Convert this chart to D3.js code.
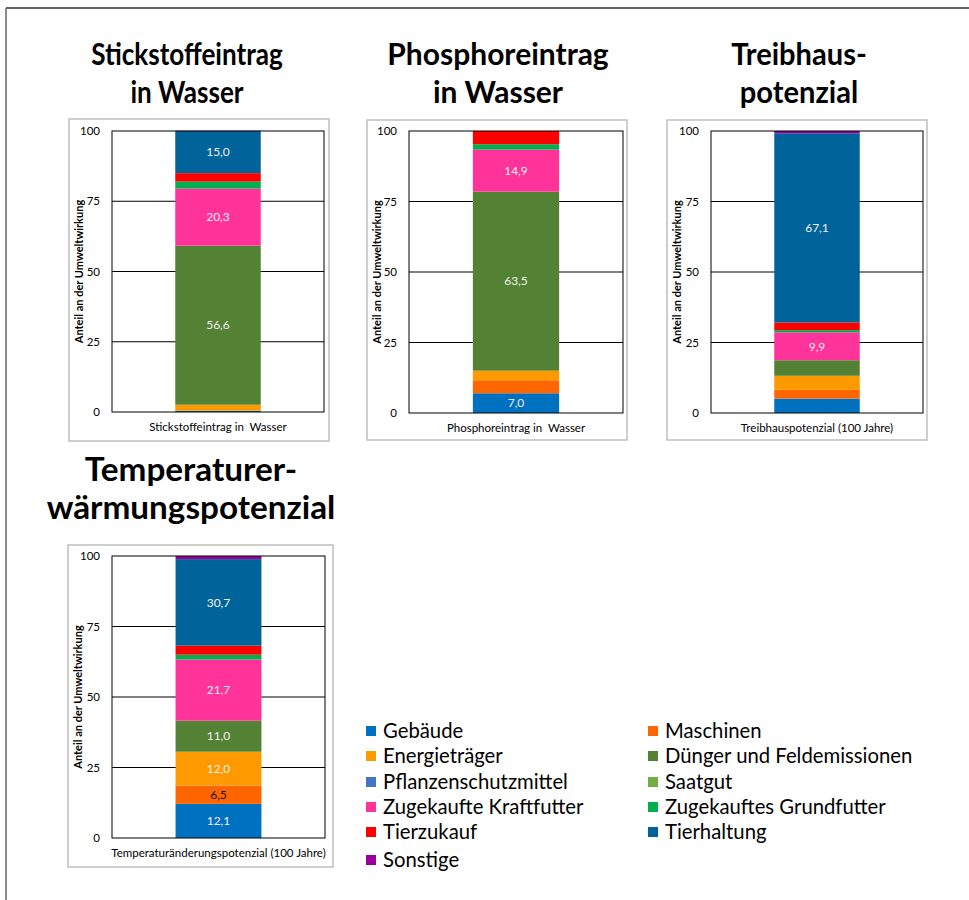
<!DOCTYPE html>
<html><head><meta charset="utf-8">
<script src="https://cdn.jsdelivr.net/npm/d3@7"></script>
<style>
html,body{margin:0;padding:0;background:#fff;}
svg{display:block;}
</style></head>
<body>
<script>
// ---- DATA ----
const categories = ["Gebäude","Maschinen","Energieträger","Dünger und Feldemissionen","Pflanzenschutzmittel","Saatgut","Zugekaufte Kraftfutter","Zugekauftes Grundfutter","Tierzukauf","Tierhaltung","Sonstige"];
const colors = ["#0070C0","#FF6600","#FF9900","#548235","#4472C4","#70AD47","#FF3399","#00B050","#FF0000","#00649A","#990099"];
const legendOrder = ["Gebäude","Maschinen","Energieträger","Dünger und Feldemissionen","Pflanzenschutzmittel","Saatgut","Zugekaufte Kraftfutter","Zugekauftes Grundfutter","Tierzukauf","Tierhaltung","Sonstige"];

const chartTitles = [["Stickstoffeintrag","in Wasser"],["Phosphoreintrag","in Wasser"],["Treibhaus-","potenzial"],["Temperaturer-","wärmungspotenzial"]];
const xLabels = ["Stickstoffeintrag in  Wasser","Phosphoreintrag in  Wasser","Treibhauspotenzial (100 Jahre)","Temperaturänderungspotenzial (100 Jahre)"];
const yAxisTitle = "Anteil an der Umweltwirkung";
const yTicks = [0,25,50,75,100];

const stickstoffValues  = [0.4, 0.1, 2.1, 56.6, 0.0, 0.0, 20.3, 2.5, 3.0, 15.0, 0.1];
const phosphorValues    = [7.0, 4.6, 3.4, 63.5, 0.0, 0.0, 14.9, 1.9, 4.7, 0.0, 0.0];
const treibhausValues   = [5.1, 3.1, 5.0, 5.5, 0.0, 0.0, 9.9, 0.8, 2.7, 67.1, 0.8];
const temperaturValues  = [12.1, 6.5, 12.0, 11.0, 0.0, 0.0, 21.7, 1.7, 3.2, 30.7, 1.1];

// which segments carry a data label
const stickstoffLabels = ["Dünger und Feldemissionen","Zugekaufte Kraftfutter","Tierhaltung"];
const phosphorLabels   = ["Gebäude","Dünger und Feldemissionen","Zugekaufte Kraftfutter"];
const treibhausLabels  = ["Zugekaufte Kraftfutter","Tierhaltung"];
const temperaturLabels = ["Gebäude","Maschinen","Energieträger","Dünger und Feldemissionen","Zugekaufte Kraftfutter","Tierhaltung"];

const seriesValues = [stickstoffValues, phosphorValues, treibhausValues, temperaturValues];
const seriesLabels = [stickstoffLabels, phosphorLabels, treibhausLabels, temperaturLabels];

// ---- LAYOUT ----
const W = 969, H = 900;
const panels = [
  {bx:69, by:119, bw:260, bh:322, px0:112, px1:324, py0:131, py1:412, tx:187, ty:65, tfs:30, tsx:0.87},
  {bx:367, by:120, bw:260, bh:320, px0:409, px1:623, py0:131, py1:413, tx:498, ty:65, tfs:30, tsx:1.0},
  {bx:667, by:120, bw:260, bh:320, px0:711, px1:923, py0:131, py1:413, tx:799, ty:65, tfs:30, tsx:0.97},
  {bx:68, by:545, bw:265, bh:322, px0:112, px1:325, py0:556, py1:838, tx:191, ty:481, tfs:32, tsx:1.04}
];

const svg = d3.select("body").append("svg").attr("width", W).attr("height", H);
const fmt = v => d3.format(".1f")(v).replace(".", ",");
const color = d3.scaleOrdinal(categories, colors);
const FONT = "Lato, 'Open Sans', sans-serif";

// outer frame (top and left lines)
svg.append("line").attr("x1",6).attr("x2",W).attr("y1",8).attr("y2",8).attr("stroke","#333").attr("stroke-width",1.5);
svg.append("line").attr("x1",6).attr("x2",6).attr("y1",8).attr("y2",H).attr("stroke","#666").attr("stroke-width",1.5);

panels.forEach((p, i) => {
  const g = svg.append("g");
  // title
  chartTitles[i].forEach((t, k) => {
    g.append("g").attr("transform",`translate(${p.tx},${p.ty + k*38}) scale(${p.tsx},1)`)
      .append("text").attr("x",0).attr("y",0)
      .attr("text-anchor","middle").attr("font-family",FONT).attr("font-weight","bold")
      .attr("font-size",p.tfs).attr("fill","#000").text(t);
  });
  // panel border
  g.append("rect").attr("x",p.bx).attr("y",p.by).attr("width",p.bw).attr("height",p.bh)
    .attr("fill","#fff").attr("stroke","#bfbfbf").attr("stroke-width",1.5);

  const y = d3.scaleLinear().domain([0,100]).range([p.py1, p.py0]);
  const x = d3.scaleBand().domain([xLabels[i]]).range([p.px0, p.px1]).paddingInner(0).paddingOuter(0.74);

  // gridlines
  g.append("g").selectAll("line").data(yTicks.filter(t => t > 0 && t < 100)).join("line")
    .attr("x1",p.px0).attr("x2",p.px1).attr("y1",d=>y(d)).attr("y2",d=>y(d))
    .attr("stroke","#000").attr("stroke-width",1);

  // stacked bar
  const vals = seriesValues[i];
  let cum = 0;
  const segs = categories.map((c, j) => { const s = {cat:c, v:vals[j], y0:cum, y1:cum+vals[j]}; cum += vals[j]; return s; })
    .filter(s => s.v > 0);
  g.append("g").selectAll("rect").data(segs).join("rect")
    .attr("x", x(xLabels[i])).attr("width", x.bandwidth())
    .attr("y", d => y(d.y1)).attr("height", d => y(d.y0) - y(d.y1))
    .attr("fill", d => color(d.cat));

  // plot frame
  g.append("rect").attr("x",p.px0).attr("y",p.py0).attr("width",p.px1-p.px0).attr("height",p.py1-p.py0)
    .attr("fill","none").attr("stroke","#000").attr("stroke-width",1);

  // data labels
  g.append("g").selectAll("text").data(segs.filter(s => seriesLabels[i].includes(s.cat))).join("text")
    .attr("x", x(xLabels[i]) + x.bandwidth()/2)
    .attr("y", d => (y(d.y0)+y(d.y1))/2)
    .attr("dy","0.35em").attr("text-anchor","middle")
    .attr("font-family",FONT).attr("font-size",12)
    .attr("fill", d => d.cat === "Maschinen" ? "#111" : "#f0f0f0")
    .text(d => fmt(d.v));

  // y axis tick labels
  const yAxis = d3.axisLeft(y).tickValues(yTicks).tickSize(0).tickPadding(12);
  const ya = g.append("g").attr("transform",`translate(${p.px0},0)`).call(yAxis);
  ya.select(".domain").remove();
  ya.selectAll("text").attr("font-family",FONT).attr("font-size",11.5).attr("fill","#000");

  // y axis title
  g.append("text").attr("transform",`translate(${p.bx+10},${(p.py0+p.py1)/2}) rotate(-90)`)
    .attr("dy","0.35em").attr("text-anchor","middle").attr("font-family",FONT).attr("font-weight","bold")
    .attr("font-size",11).attr("fill","#000").text(yAxisTitle);

  // x axis label
  const xAxis = d3.axisBottom(x).tickSize(0).tickPadding(11);
  const xa = g.append("g").attr("transform",`translate(0,${p.py1})`).call(xAxis);
  xa.select(".domain").remove();
  xa.selectAll("text").attr("font-family",FONT).attr("font-size",11.5).attr("fill","#000")
    .attr("xml:space","preserve").style("white-space","pre");
});

// ---- LEGEND ----
const legendCols = [366, 648];
const legendRows = [731, 756, 782, 807, 832, 860];
const lg = svg.append("g");
legendOrder.forEach((c, k) => {
  const col = k % 2, row = Math.floor(k / 2);
  const lx = legendCols[col], ly = legendRows[row];
  lg.append("rect").attr("x", lx).attr("y", ly - 5).attr("width",10).attr("height",10).attr("fill", color(c));
  lg.append("text").attr("x", lx + 17).attr("y", ly).attr("dy","0.35em")
    .attr("font-family",FONT).attr("font-size",20.3).attr("fill","#000").text(c);
});
</script>
</body></html>
